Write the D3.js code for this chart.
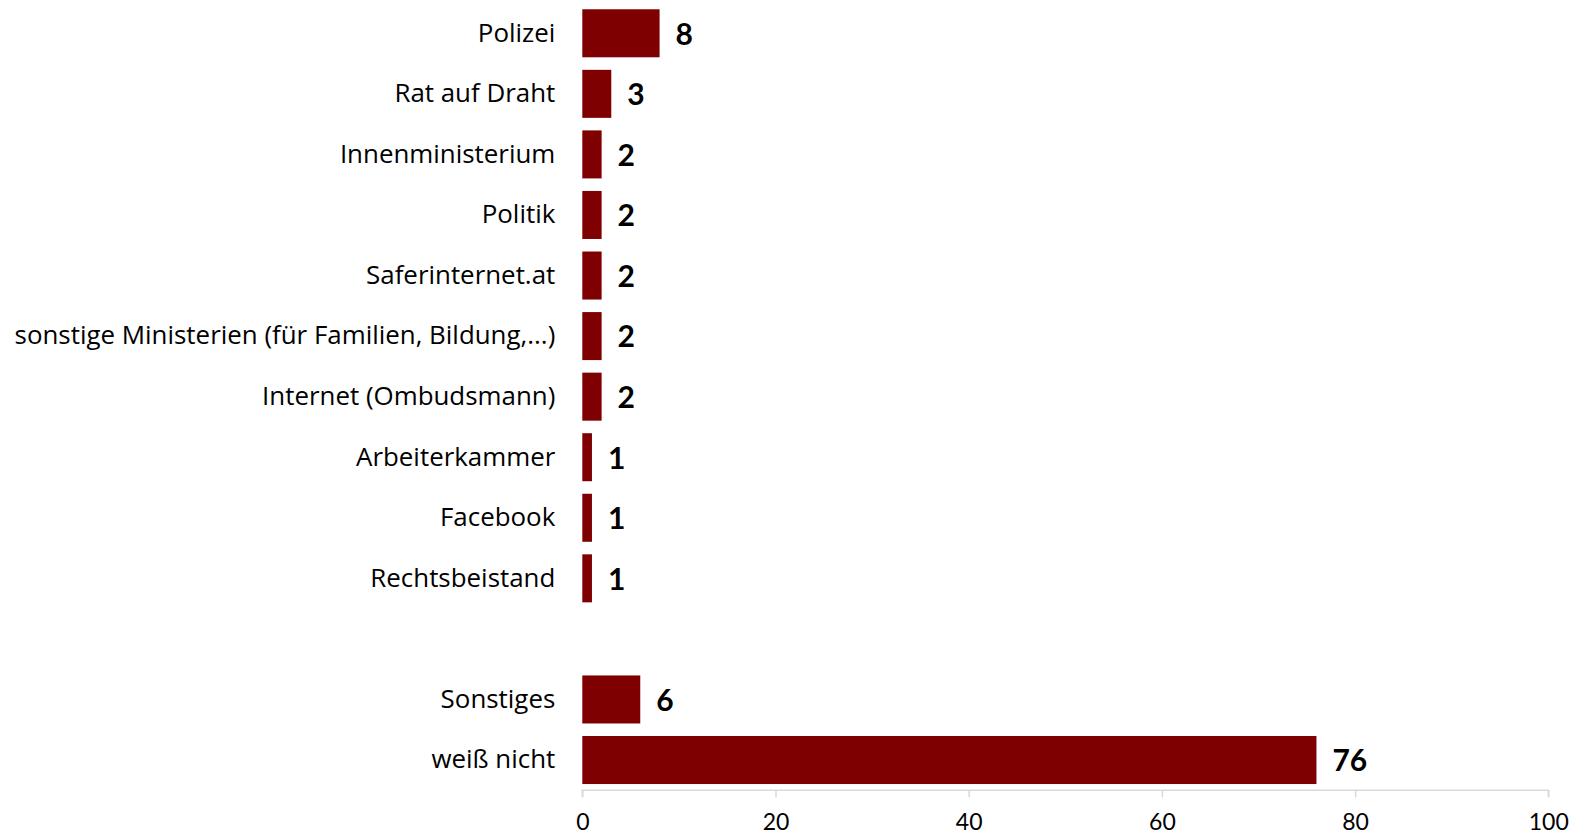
<!DOCTYPE html>
<html><head><meta charset="utf-8">
<script src="https://cdn.jsdelivr.net/npm/d3@7"></script>
<style>body{margin:0;background:#fff}svg{display:block}</style>
</head><body>
<svg id="c" width="1587" height="836"></svg>
<script>
const categories = ["Polizei","Rat auf Draht","Innenministerium","Politik","Saferinternet.at","sonstige Ministerien (für Familien, Bildung,...)","Internet (Ombudsmann)","Arbeiterkammer","Facebook","Rechtsbeistand"];
const values = [8,3,2,2,2,2,2,1,1,1];
const otherCategories = ["Sonstiges","weiß nicht"];
const otherValues = [6,76];
const xTicks = [0,20,40,60,80,100];

const rows = categories.map((c,i)=>({key:c,label:c,v:values[i]}))
  .concat([{key:"__gap__",label:"",v:null}])
  .concat(otherCategories.map((c,i)=>({key:c,label:c,v:otherValues[i]})));

const svg = d3.select("#c");
const numFont = "Lato, sans-serif";
const labFont = "'Open Sans', sans-serif";
const x = d3.scaleLinear().domain([0,100]).range([582.3,1548.3]);
const y = d3.scaleBand().domain(rows.map(d=>d.key)).range([3,790.3]).paddingInner(0.207).paddingOuter(0.1035);

const data = rows.filter(d=>d.v!==null);
svg.append("g").selectAll("rect").data(data).join("rect")
  .attr("x", x(0)).attr("y", d=>y(d.key))
  .attr("width", d=>x(d.v)-x(0)).attr("height", y.bandwidth())
  .attr("fill","#7f0000");

svg.append("g").selectAll("text").data(data).join("text")
  .attr("x", d=>x(d.v)+16).attr("y", d=>y(d.key)+y.bandwidth()/2)
  .attr("dy","0.38em")
  .attr("font-family",numFont).attr("font-weight","bold").attr("font-size",30)
  .attr("fill","#000").text(d=>d.v);

// category axis
const yAxis = svg.append("g").attr("transform",`translate(${x(0)},0)`)
  .call(d3.axisLeft(y).tickSize(0).tickPadding(27).tickFormat(k=>rows.find(r=>r.key===k).label));
yAxis.select(".domain").remove();
const labs = yAxis.selectAll("text").attr("font-family",labFont).attr("font-size",24).attr("fill","#000");
let maxW = 0; labs.each(function(){ maxW = Math.max(maxW, this.getComputedTextLength()); });
if (maxW > 0) labs.attr("font-size", 24*541/maxW);

// x axis
const xAxis = svg.append("g").attr("transform","translate(0,790.3)")
  .call(d3.axisBottom(x).tickValues(xTicks).tickSize(7).tickPadding(16));
xAxis.select(".domain").attr("stroke","#d9d9d9").attr("stroke-width",1.5).attr("d",`M${x(0)},7V0H${x(100)}V7`);
xAxis.selectAll(".tick line").attr("stroke","#d9d9d9").attr("stroke-width",1.5);
xAxis.selectAll("text").attr("font-family",numFont).attr("font-size",23).attr("fill","#000");
</script>
</body></html>
